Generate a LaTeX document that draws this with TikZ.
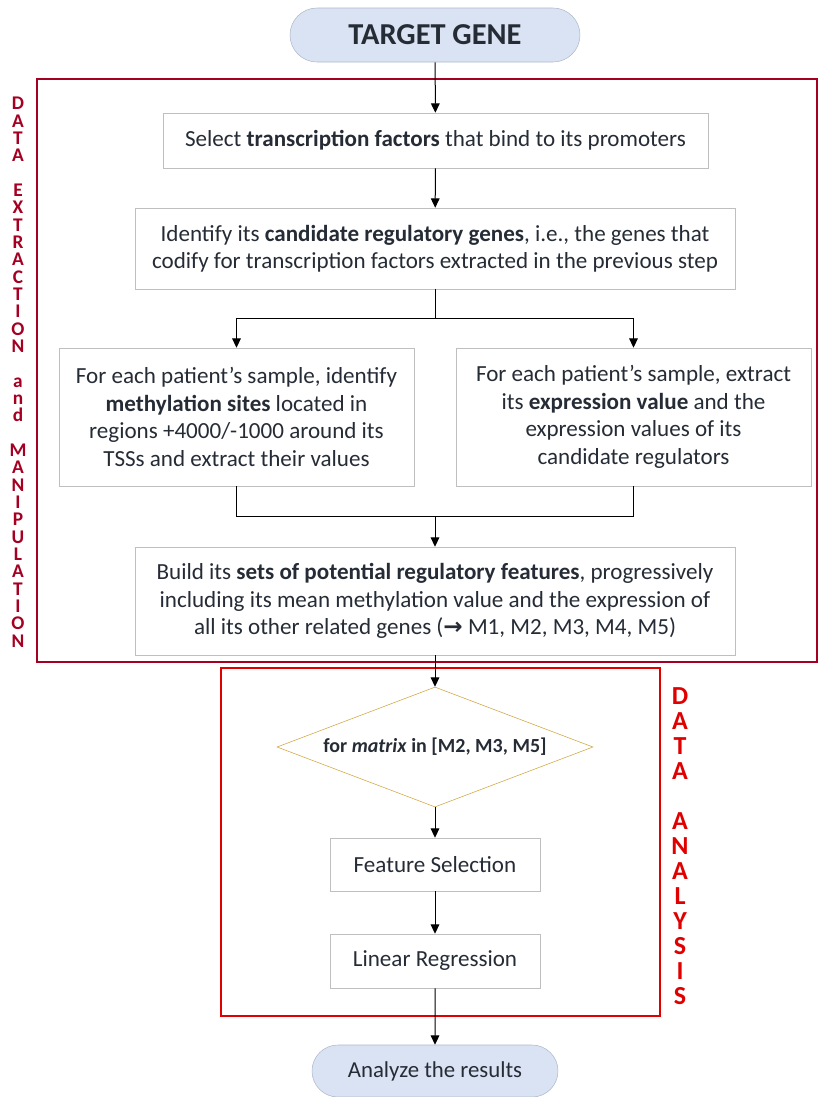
\documentclass[tikz,border=0pt]{standalone}
\usepackage{fontspec}
\setmainfont{Carlito}
\newfontfamily\arrowfont{DejaVu Sans}
\usetikzlibrary{arrows.meta,shapes.geometric,shapes.misc}
\definecolor{ink}{HTML}{262C36}
\definecolor{boxline}{HTML}{BFBFBF}
\definecolor{termfill}{HTML}{DAE3F3}
\definecolor{termline}{HTML}{ADB9CA}
\definecolor{darkred}{HTML}{A50021}
\definecolor{brightred}{HTML}{E00000}
\definecolor{gold}{HTML}{CFA53A}
\begin{document}
\begin{tikzpicture}[x=0.75pt,y=-0.75pt,
  every node/.style={text=ink},
  term/.style={rounded rectangle, draw=termline, fill=termfill, inner sep=0pt},
  stepbox/.style={draw=boxline, fill=white, align=center, inner sep=0pt,
    font=\fontsize{17.3}{20.6}\selectfont},
  arr/.style={draw=black, line width=0.75pt, -{Triangle[width=6.5pt,length=7pt]}},
  link/.style={draw=black, line width=0.75pt},
  sidelabel/.style={align=center, inner sep=0pt, anchor=north}
]
\useasboundingbox (0,0) rectangle (818,1097);

% stage frames
\draw[darkred, line width=1.5pt] (37,79) rectangle (817,662);
\draw[brightred, line width=1.9pt] (221,668) rectangle (660,1016);

% terminals
\node[term, minimum width=290*0.75pt, minimum height=54*0.75pt,
  font=\bfseries\fontsize{22.8}{26}\selectfont] (tg) at (435,35) {TARGET GENE};
\node[term, minimum width=246*0.75pt, minimum height=52*0.75pt,
  font=\fontsize{17.1}{20}\selectfont] (ar) at (435,1071) {Analyze the results};

% data extraction steps
\node[stepbox, minimum width=545*0.75pt, minimum height=55*0.75pt] (b1) at (435.5,140.5)
  {Select \textbf{transcription factors} that bind to its promoters};
\node[stepbox, minimum width=600*0.75pt, minimum height=81*0.75pt] (b2) at (435,248.5)
  {Identify its \textbf{candidate regulatory genes}, i.e., the genes that\\
   codify for transcription factors extracted in the previous step};
\node[stepbox, minimum width=355*0.75pt, minimum height=138*0.75pt] (b3) at (236.5,417)
  {For each patient’s sample, identify\\
   \textbf{methylation sites} located in\\
   regions +4000/-1000 around its\\
   TSSs and extract their values};
\node[stepbox, minimum width=355*0.75pt, minimum height=138*0.75pt] (b4) at (633.5,417)
  {For each patient’s sample, extract\\
   its \textbf{expression value} and the\\
   expression values of its\\
   candidate regulators};
\node[stepbox, minimum width=600*0.75pt, minimum height=108*0.75pt] (b5) at (435,601)
  {Build its \textbf{sets of potential regulatory features}, progressively\\
   including its mean methylation value and the expression of\\
   all its other related genes ({\arrowfont\bfseries →} M1, M2, M3, M4, M5)};

% data analysis loop
\node[diamond, draw=gold, fill=white, inner sep=0pt,
  minimum width=316*0.75pt, minimum height=120*0.75pt] (dia) at (435,747) {};
\node[font=\bfseries\fontsize{15}{18}\selectfont] (diatext) at (dia.center)
  {for \textit{matrix} in [M2, M3, M5]};
\node[stepbox, minimum width=210*0.75pt, minimum height=53*0.75pt] (fs) at (435,864.5)
  {Feature Selection};
\node[stepbox, minimum width=210*0.75pt, minimum height=54*0.75pt] (lr) at (435,961)
  {Linear Regression};

% connectors
\coordinate (sp) at (435,318);
\coordinate (mg) at (435,516);
\draw[arr] (tg) -- (b1);
\draw[arr] (b1) -- (b2);
\draw[link] (b2.south) -- (sp);
\draw[arr] (sp) -| (b3.north);
\draw[arr] (sp) -| (b4.north);
\draw[link] (b3.south) |- (mg);
\draw[link] (b4.south) |- (mg);
\draw[arr] (mg) -- (b5.north);
\draw[arr] (b5) -- (dia);
\draw[arr] (dia) -- (fs);
\draw[arr] (fs) -- (lr);
\draw[arr] (lr) -- (ar);

% stage labels
\node[sidelabel, text=darkred, font=\bfseries\fontsize{14.5}{13}\selectfont] (lab1) at (18,97)
  {D\\A\\T\\A\\[13pt]E\\X\\T\\R\\A\\C\\T\\I\\O\\N\\[13pt]a\\n\\d\\[13pt]M\\A\\N\\I\\P\\U\\L\\A\\T\\I\\O\\N};
\node[sidelabel, text=brightred, font=\bfseries\fontsize{19.5}{18.75}\selectfont] (lab2) at (680,687)
  {D\\A\\T\\A\\[18.75pt]A\\N\\A\\L\\Y\\S\\I\\S};
\end{tikzpicture}
\end{document}
